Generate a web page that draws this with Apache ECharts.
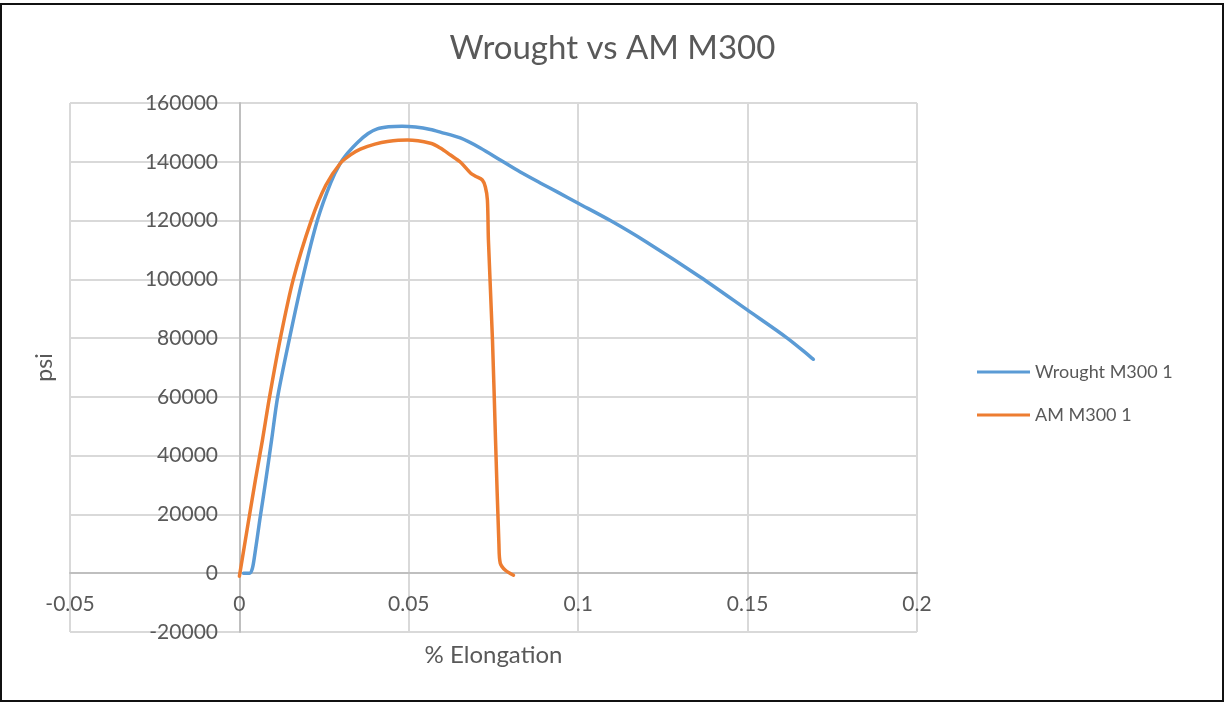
<!DOCTYPE html>
<html>
<head>
<meta charset="utf-8">
<title>Wrought vs AM M300</title>
<script src="https://cdn.jsdelivr.net/npm/echarts@6/dist/echarts.min.js"></script>
<style>
  html, body { margin: 0; padding: 0; background: #fff; }
  #wrap { position: relative; width: 1225px; height: 703px; }
  #chart { position: absolute; left: 0; top: 0; width: 1225px; height: 703px; }
  #frame { position: absolute; left: 0; top: 3px; width: 1224px; height: 699px;
           box-sizing: border-box; border: 2px solid #111; pointer-events: none; }
</style>
</head>
<body>
<div id="wrap">
  <div id="chart"></div>
  <div id="frame"></div>
</div>
<script>
// Tensile curves: strain (% elongation) vs stress (psi)
const wroughtStrain = [0.0012, 0.003, 0.0038, 0.0045, 0.006, 0.0078, 0.0095, 0.0113, 0.0148, 0.0186, 0.023, 0.027, 0.0298, 0.032, 0.0348, 0.038, 0.0407, 0.044, 0.048, 0.052, 0.0564, 0.0593, 0.0652, 0.0711, 0.077, 0.0829, 0.0888, 0.0942, 0.100, 0.1095, 0.120, 0.136, 0.150, 0.1617, 0.1694];
const wroughtPsi    = [0, 0, 1500, 6000, 18000, 31700, 45300, 60000, 80000, 100000, 120000, 133000, 139500, 143000, 146500, 149600, 151200, 151900, 152100, 151800, 151000, 150100, 148100, 144700, 140600, 136500, 132800, 129500, 125900, 120000, 112800, 100800, 89500, 80000, 72800];

const amStrain = [0, 0.0047, 0.0068, 0.0089, 0.0121, 0.0159, 0.0212, 0.0255, 0.0298, 0.033, 0.0357, 0.040, 0.0437, 0.0496, 0.0564, 0.0593, 0.0623, 0.0652, 0.0682, 0.0697, 0.0717, 0.0726, 0.0732, 0.0735, 0.0747, 0.0756, 0.0766, 0.0770, 0.0785, 0.0809];
const amPsi    = [-1000, 31600, 45300, 60000, 80000, 100000, 120000, 132000, 139500, 142500, 144300, 146000, 146900, 147400, 146300, 144700, 142300, 139900, 136200, 135100, 133800, 131400, 127000, 113400, 79300, 45300, 10000, 3400, 1000, -700];

const seriesNames = ['Wrought M300 1', 'AM M300 1'];
const xTicks = { min: -0.05, max: 0.2, step: 0.05 };
const yTicks = { min: -20000, max: 160000, step: 20000 };

const pairs = (xs, ys) => xs.map((x, i) => [x, ys[i]]);

const FONT = 'Lato, "Open Sans", sans-serif';
const TEXT = '#595959';
const GRID = '#D9D9D9';
const AXIS = '#BFBFBF';

const chart = echarts.init(document.getElementById('chart'), null, { renderer: 'canvas' });
chart.setOption({
  animation: false,
  backgroundColor: '#fff',
  textStyle: { fontFamily: FONT, color: TEXT },
  title: {
    text: 'Wrought vs AM M300',
    left: 'center',
    top: 27,
    textStyle: { fontFamily: FONT, fontSize: 33, fontWeight: 'normal', color: TEXT }
  },
  legend: {
    orient: 'vertical',
    left: 972,
    top: 358,
    icon: 'rect',
    itemWidth: 53,
    itemHeight: 3,
    itemGap: 25,
    textStyle: { fontFamily: FONT, fontSize: 18, color: TEXT },
    data: seriesNames
  },
  grid: { left: 70, right: 308, top: 103, bottom: 71, containLabel: false, outerBoundsMode: 'none' },
  xAxis: {
    type: 'value',
    min: xTicks.min,
    max: xTicks.max,
    interval: xTicks.step,
    name: '% Elongation',
    nameLocation: 'middle',
    nameGap: 11,
    nameTextStyle: { fontFamily: FONT, fontSize: 24, color: TEXT, verticalAlign: 'top' },
    axisLine: { onZero: true, lineStyle: { color: AXIS, width: 2 } },
    axisTick: { show: false },
    axisLabel: {
      // tick labels sit just under the y = 0 line
      margin: -38, fontFamily: FONT, fontSize: 21, color: TEXT,
      formatter: v => String(Math.round(v * 100) / 100)
    },
    splitLine: { show: true, lineStyle: { color: GRID, width: 2 } }
  },
  yAxis: {
    type: 'value',
    min: yTicks.min,
    max: yTicks.max,
    interval: yTicks.step,
    name: 'psi',
    nameLocation: 'middle',
    nameRotate: 90,
    nameGap: 14,
    nameTextStyle: { fontFamily: FONT, fontSize: 23, color: TEXT },
    axisLine: { show: true, onZero: true, lineStyle: { color: AXIS, width: 2 } },
    axisTick: { show: false },
    axisLabel: {
      // tick labels sit just left of the x = 0 line
      margin: -148, fontFamily: FONT, fontSize: 21, color: TEXT,
      formatter: v => String(Math.round(v))
    },
    splitLine: { show: true, lineStyle: { color: GRID, width: 2 } }
  },
  series: [
    {
      name: seriesNames[0],
      type: 'line',
      data: pairs(wroughtStrain, wroughtPsi),
      showSymbol: false,
      symbol: 'none',
      smooth: 0.3,
      color: '#5B9BD5',
      lineStyle: { color: '#5B9BD5', width: 3.5, cap: 'round', join: 'round' },
      z: 3
    },
    {
      name: seriesNames[1],
      type: 'line',
      data: pairs(amStrain, amPsi),
      showSymbol: false,
      symbol: 'none',
      smooth: 0.3,
      color: '#ED7D31',
      lineStyle: { color: '#ED7D31', width: 3.5, cap: 'round', join: 'round' },
      z: 4
    }
  ]
});
</script>
</body>
</html>
